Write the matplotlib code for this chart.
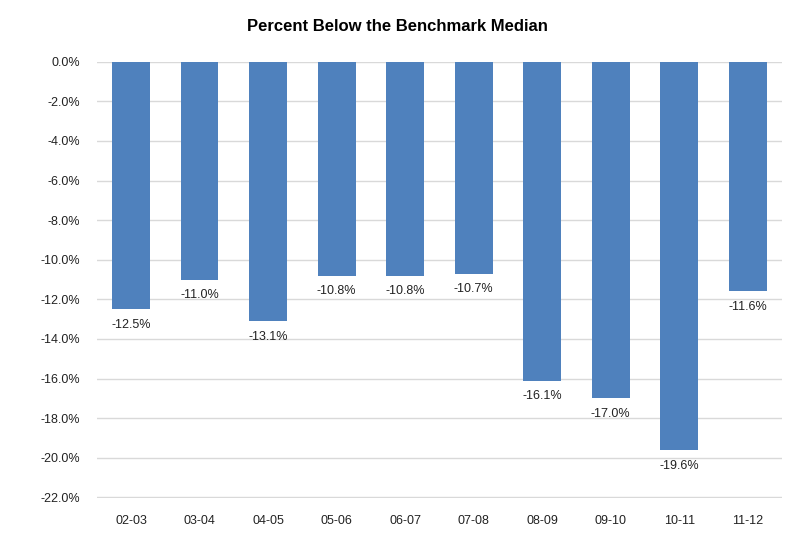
import matplotlib
matplotlib.use('Agg')
import matplotlib.pyplot as plt
from matplotlib.ticker import FuncFormatter

years = ['02-03', '03-04', '04-05', '05-06', '06-07', '07-08', '08-09', '09-10', '10-11', '11-12']
pct_below = [-12.5, -11.0, -13.1, -10.8, -10.8, -10.7, -16.1, -17.0, -19.6, -11.6]

plt.rcParams['font.family'] = ['Liberation Sans', 'DejaVu Sans']

fig = plt.figure(figsize=(7.94, 5.37), dpi=100)
ax = fig.add_axes([0.122, 0.072, 0.863, 0.813])

x = range(len(years))
bars = ax.bar(x, pct_below, width=0.55, color='#4f81bd', zorder=3)

for i, v in enumerate(pct_below):
    ax.annotate('%.1f%%' % v, (i, v), xytext=(0, -7), textcoords='offset points',
                ha='center', va='top', fontsize=9, color='#222222', zorder=4)

ax.set_ylim(-22.05, 0)
ax.set_xlim(-0.5, len(years) - 0.5)
ax.set_yticks([-2 * k for k in range(12)])
ax.yaxis.set_major_formatter(FuncFormatter(lambda v, p: '%.1f%%' % v))
ax.set_xticks(list(x))
ax.set_xticklabels(years)
ax.tick_params(length=0, labelsize=9, colors='#222222')
ax.tick_params(axis='y', pad=12)
ax.tick_params(axis='x', pad=12)
ax.grid(axis='y', color='#d9d9d9', linewidth=1, zorder=0)
for s in ax.spines.values():
    s.set_visible(False)

fig.suptitle('Percent Below the Benchmark Median', y=0.965, fontsize=12, fontweight='bold')

fig.savefig('out.png', dpi=100)
